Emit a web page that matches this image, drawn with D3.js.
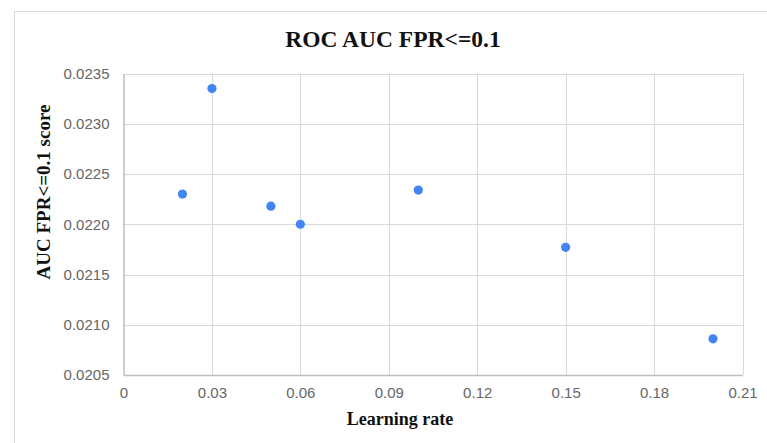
<!DOCTYPE html>
<html>
<head>
<meta charset="utf-8">
<script src="https://cdn.jsdelivr.net/npm/d3@7"></script>
<style>
  html, body { margin: 0; padding: 0; background: #fff; }
  svg { display: block; }
</style>
</head>
<body>
<svg id="chart" width="767" height="443"></svg>
<script>
// Learning-rate sweep: ROC AUC restricted to FPR <= 0.1
const learningRates = [0.02, 0.03, 0.05, 0.06, 0.10, 0.15, 0.20];
const aucScores = [0.02230, 0.02335, 0.02218, 0.02200, 0.02234, 0.02177, 0.02086];
const xTicks = [0, 0.03, 0.06, 0.09, 0.12, 0.15, 0.18, 0.21];
const yTicks = [0.0205, 0.0210, 0.0215, 0.0220, 0.0225, 0.0230, 0.0235];
const chartTitle = "ROC AUC FPR<=0.1";
const xTitle = "Learning rate";
const yTitle = "AUC FPR<=0.1 score";

const svg = d3.select("#chart");
const plot = { left: 123.5, right: 742.5, top: 73.5, bottom: 375 };

const x = d3.scaleLinear().domain([0, 0.21]).range([plot.left, plot.right]);
const y = d3.scaleLinear().domain([0.0205, 0.0235]).range([plot.bottom, plot.top]);

// outer chart frame (only top/left edges fall inside the view)
svg.append("rect")
  .attr("x", 14.5).attr("y", 11.5)
  .attr("width", 800).attr("height", 500)
  .attr("fill", "none").attr("stroke", "#d9d9d9").attr("stroke-width", 1);

// gridlines
const grid = svg.append("g");
grid.selectAll("line.v").data(xTicks.slice(1)).join("line")
  .attr("x1", d => Math.round(x(d)) + 0.5).attr("x2", d => Math.round(x(d)) + 0.5)
  .attr("y1", plot.top).attr("y2", plot.bottom)
  .attr("stroke", "#d9d9d9").attr("stroke-width", 1);
grid.selectAll("line.h").data(yTicks.slice(1)).join("line")
  .attr("x1", plot.left).attr("x2", plot.right)
  .attr("y1", d => Math.round(y(d)) + 0.5).attr("y2", d => Math.round(y(d)) + 0.5)
  .attr("stroke", "#d9d9d9").attr("stroke-width", 1);

// axes
const xAxis = d3.axisBottom(x).tickValues(xTicks).tickSize(0).tickPadding(12)
  .tickFormat(d => d === 0 ? "0" : d3.format(".2f")(d));
const yAxis = d3.axisLeft(y).tickValues(yTicks).tickSize(0).tickPadding(14)
  .tickFormat(d3.format(".4f"));

const gx = svg.append("g").attr("transform", `translate(0,${plot.bottom})`).call(xAxis);
const gy = svg.append("g").attr("transform", `translate(${plot.left},0)`).call(yAxis);
[gx, gy].forEach(g => {
  g.select(".domain").attr("stroke", "#bfbfbf").attr("stroke-width", 1.5);
  g.selectAll("text")
    .attr("fill", "#666")
    .style("font-family", "'Liberation Sans', Arial, sans-serif")
    .style("font-size", "15px");
});

// points
svg.append("g").selectAll("circle")
  .data(learningRates.map((lr, i) => ({ lr, v: aucScores[i] })))
  .join("circle")
  .attr("cx", d => x(d.lr))
  .attr("cy", d => y(d.v))
  .attr("r", 4.6)
  .attr("fill", "#4285f4");

// titles
svg.append("text")
  .attr("x", 393).attr("y", 47)
  .attr("text-anchor", "middle")
  .style("font-family", "'Liberation Serif', 'Times New Roman', serif")
  .style("font-weight", "bold").style("font-size", "23.5px")
  .attr("fill", "#111")
  .text(chartTitle);

svg.append("text")
  .attr("x", 400).attr("y", 425)
  .attr("text-anchor", "middle")
  .style("font-family", "'Liberation Serif', 'Times New Roman', serif")
  .style("font-weight", "bold").style("font-size", "18px")
  .attr("fill", "#111")
  .text(xTitle);

svg.append("text")
  .attr("transform", "translate(50,192) rotate(-90)")
  .attr("text-anchor", "middle")
  .style("font-family", "'Liberation Serif', 'Times New Roman', serif")
  .style("font-weight", "bold").style("font-size", "19px")
  .attr("fill", "#111")
  .text(yTitle);
</script>
</body>
</html>
